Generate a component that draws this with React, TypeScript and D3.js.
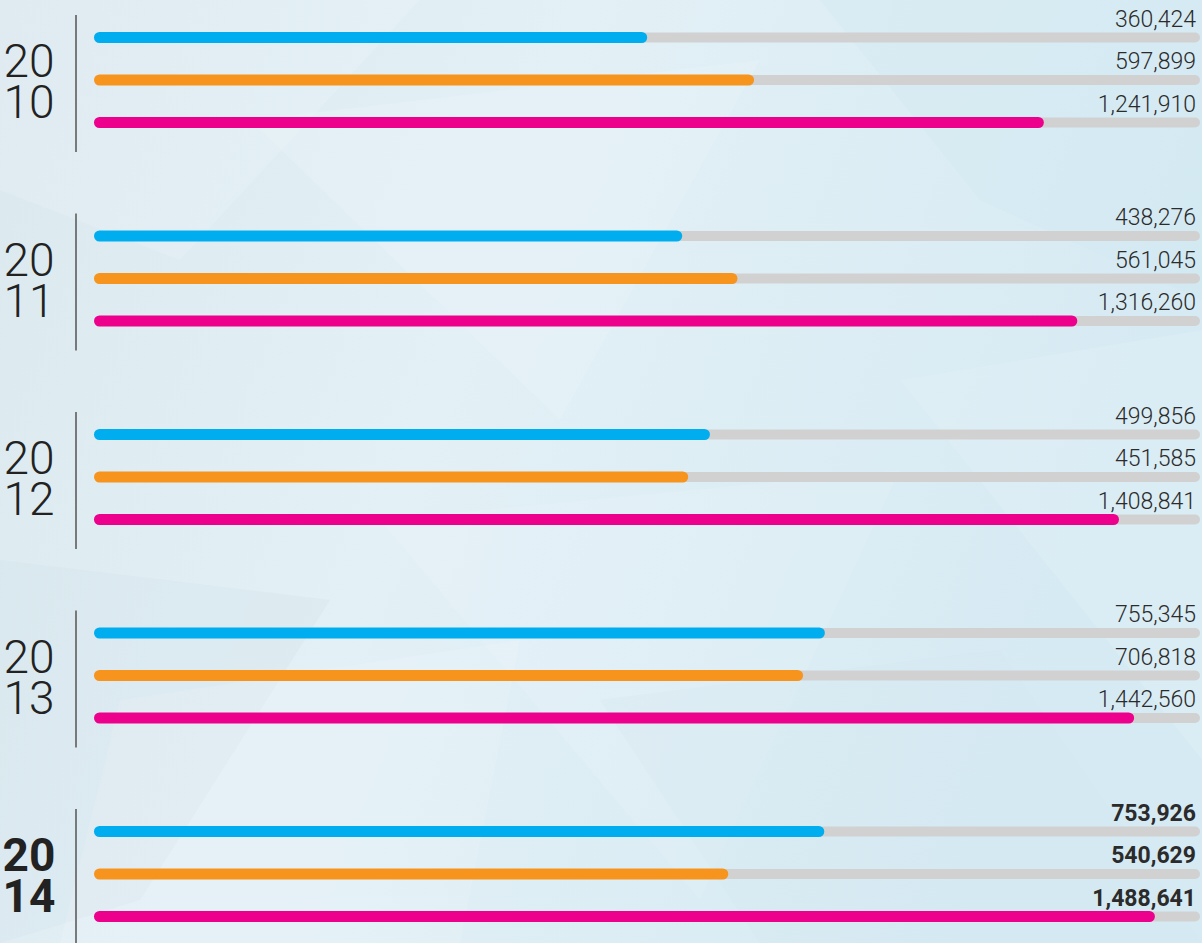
import React from 'react'
import { scaleLinear, scalePoint, format } from 'd3'

// data
const years = ['2010', '2011', '2012', '2013', '2014']
const series = ['blue', 'orange', 'pink']
const blueValues = [360424, 438276, 499856, 755345, 753926]
const orangeValues = [597899, 561045, 451585, 706818, 540629]
const pinkValues = [1241910, 1316260, 1408841, 1442560, 1488641]
const colors = ['#00aeef', '#f7941d', '#ec008c']
const highlightYear = '2014'

const W = 1202
const H = 943

// faint low-poly shapes for the backdrop
const shapes = [
  { pts: '0,0 420,0 180,260 0,190', fill: '#ffffff', op: 0.12 },
  { pts: '250,120 760,60 560,420', fill: '#ffffff', op: 0.12 },
  { pts: '0,560 330,600 140,900 0,943', fill: '#cfe0e8', op: 0.25 },
  { pts: '380,520 900,470 700,900', fill: '#ffffff', op: 0.1 },
  { pts: '820,0 1202,0 1202,300 980,200', fill: '#cde6f1', op: 0.25 },
  { pts: '900,380 1202,330 1202,760', fill: '#ffffff', op: 0.1 },
  { pts: '120,700 520,640 460,943 60,943', fill: '#ffffff', op: 0.12 },
  { pts: '600,700 1000,650 1202,943 760,943', fill: '#d3e7f0', op: 0.25 },
]

function App() {
  const fmt = format(',')
  const valuesBySeries = [blueValues, orangeValues, pinkValues]

  const yGroup = scalePoint<string>().domain(years).range([80, 874])
  const yInner = scalePoint<string>().domain(series).range([-42.5, 42.5])
  const x = scaleLinear().domain([0, 1500000]).range([485, 1160])

  const barStart = 94
  const barH = 11
  const trackH = 10

  return (
    <svg width={W} height={H} style={{ position: 'absolute', left: 0, top: 0 }}>
      <defs>
        <linearGradient id="bg" x1="0" y1="0" x2="1" y2="0.3">
          <stop offset="0" stopColor="#dbe9ef" />
          <stop offset="0.45" stopColor="#e3f0f6" />
          <stop offset="1" stopColor="#d6eaf3" />
        </linearGradient>
      </defs>
      <rect width={W} height={H} fill="url(#bg)" />
      {shapes.map((s, i) => (
        <polygon key={i} points={s.pts} fill={s.fill} opacity={s.op} />
      ))}

      {years.map((yr, gi) => {
        const cy = yGroup(yr) as number
        const bold = yr === highlightYear
        return (
          <g key={yr}>
            {/* separator line */}
            <line x1={76} x2={76} y1={cy - 65} y2={cy + 72} stroke="#555" strokeWidth={1.5} />
            <text
              textAnchor="middle"
              fontFamily="Roboto, sans-serif"
              fontWeight={bold ? 700 : 300}
              fontSize={46}
              fill="#222"
            >
              <tspan x={29} y={cy - 3}>{yr.slice(0, 2)}</tspan>
              <tspan x={29} y={cy + 38}>{yr.slice(2)}</tspan>
            </text>

            {series.map((s, si) => {
              const by = cy + (yInner(s) as number)
              const v = valuesBySeries[si][gi]
              const xe = x(v)
              return (
                <g key={s}>
                  <rect
                    x={barStart + 10}
                    y={by - trackH / 2}
                    width={W - 2 - barStart - 10}
                    height={trackH}
                    rx={trackH / 2}
                    fill="#d1d1d1"
                  />
                  <rect
                    x={barStart}
                    y={by - barH / 2}
                    width={xe - barStart}
                    height={barH}
                    rx={barH / 2}
                    fill={colors[si]}
                  />
                  <text
                    x={1196}
                    y={by - 11}
                    textAnchor="end"
                    fontFamily="Roboto, sans-serif"
                    fontWeight={bold ? 700 : 300}
                    fontSize={23}
                    fill="#2b2b2b"
                  >
                    {fmt(v)}
                  </text>
                </g>
              )
            })}
          </g>
        )
      })}
    </svg>
  )
}

export default App
